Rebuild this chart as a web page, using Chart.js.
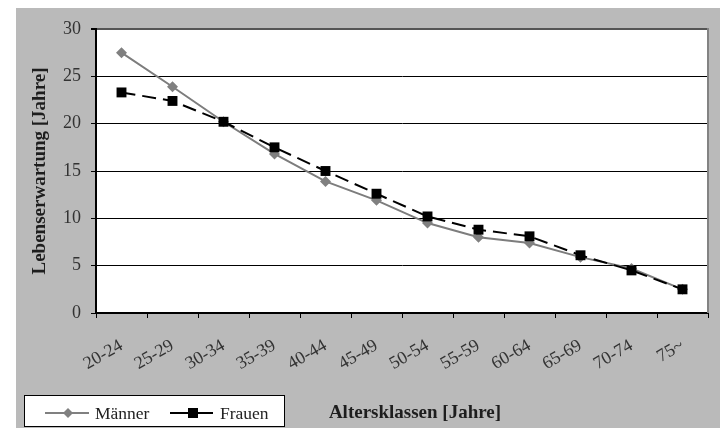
<!DOCTYPE html>
<html>
<head>
<meta charset="utf-8">
<script src="https://cdn.jsdelivr.net/npm/chart.js@4/dist/chart.umd.min.js"></script>
<style>
  html, body { margin: 0; padding: 0; background: #ffffff; }
  canvas { display: block; }
</style>
</head>
<body>
<canvas id="chart" width="722" height="428"></canvas>
<script>
// Age classes (x axis)
const altersklassen = ['20-24', '25-29', '30-34', '35-39', '40-44', '45-49',
                       '50-54', '55-59', '60-64', '65-69', '70-74', '75~'];
// Remaining life expectancy in years
const maenner = [27.5, 23.9, 20.2, 16.8, 13.9, 11.9, 9.5, 8.0, 7.4, 5.9, 4.7, 2.5];
const frauen  = [23.3, 22.4, 20.2, 17.5, 15.0, 12.6, 10.2, 8.8, 8.1, 6.1, 4.5, 2.5];
// Y axis range
const yTicks = { min: 0, max: 30, step: 5 };
// Axis titles
const xTitle = 'Altersklassen [Jahre]';
const yTitle = 'Lebenserwartung [Jahre]';

const serif = '"Liberation Serif", "Times New Roman", serif';
const GRAY_BG = '#bababa';

// Panel background, plot frame, x title and the boxed legend
const frame = {
  id: 'frame',
  beforeDraw(chart) {
    const { ctx, chartArea: a } = chart;
    ctx.save();
    ctx.fillStyle = '#ffffff';
    ctx.fillRect(0, 0, chart.width, chart.height);
    ctx.fillStyle = GRAY_BG;
    ctx.fillRect(16, 8, chart.width - 18, chart.height - 8);
    ctx.fillStyle = '#ffffff';
    ctx.fillRect(a.left, a.top, a.right - a.left, a.bottom - a.top);
    ctx.restore();
  },
  afterDraw(chart) {
    const { ctx, chartArea: a } = chart;
    ctx.save();
    // right frame edge
    ctx.strokeStyle = '#838383';
    ctx.lineWidth = 2;
    ctx.beginPath();
    ctx.moveTo(a.right, a.top - 1);
    ctx.lineTo(a.right, a.bottom);
    ctx.stroke();

    // x axis title, on the legend row
    ctx.fillStyle = '#1e1e1e';
    ctx.font = 'bold 19px ' + serif;
    ctx.textAlign = 'center';
    ctx.textBaseline = 'middle';
    ctx.fillText(xTitle, 415, 413);

    // legend box
    const lx = 24, ly = 395, lw = 260, lh = 31, cy = 413;
    ctx.fillStyle = '#ffffff';
    ctx.fillRect(lx, ly, lw, lh);
    ctx.strokeStyle = '#000000';
    ctx.lineWidth = 1;
    ctx.strokeRect(lx + 0.5, ly + 0.5, lw, lh);

    // Männer sample
    ctx.strokeStyle = '#808080';
    ctx.lineWidth = 2;
    ctx.beginPath();
    ctx.moveTo(45, cy); ctx.lineTo(89, cy);
    ctx.stroke();
    ctx.fillStyle = '#808080';
    ctx.beginPath();
    ctx.moveTo(68, cy - 5); ctx.lineTo(73, cy); ctx.lineTo(68, cy + 5); ctx.lineTo(63, cy);
    ctx.closePath();
    ctx.fill();

    // Frauen sample
    ctx.strokeStyle = '#000000';
    ctx.beginPath();
    ctx.moveTo(170, cy); ctx.lineTo(213, cy);
    ctx.stroke();
    ctx.fillStyle = '#000000';
    ctx.fillRect(188, cy - 5, 10, 10);

    ctx.fillStyle = '#222222';
    ctx.font = '17.5px ' + serif;
    ctx.textBaseline = 'middle';
    ctx.textAlign = 'left';
    ctx.fillText('Männer', 95, cy + 1);
    ctx.fillText('Frauen', 220, cy + 1);
    ctx.restore();
  }
};

new Chart(document.getElementById('chart'), {
  type: 'line',
  data: {
    labels: altersklassen,
    datasets: [
      {
        label: 'Männer',
        data: maenner,
        borderColor: '#7d7d7d',
        backgroundColor: '#808080',
        borderWidth: 2,
        pointStyle: 'rectRot',
        pointRadius: 5.5,
        pointBorderWidth: 0,
        pointBackgroundColor: '#808080',
        tension: 0,
        order: 1
      },
      {
        label: 'Frauen',
        data: frauen,
        borderColor: '#000000',
        backgroundColor: '#000000',
        borderWidth: 2,
        borderDash: [14, 7],
        pointStyle: 'rect',
        pointRadius: 7,
        pointBorderWidth: 0,
        pointBackgroundColor: '#000000',
        tension: 0,
        order: 0
      }
    ]
  },
  options: {
    responsive: false,
    animation: false,
    devicePixelRatio: 1,
    layout: { padding: { left: 16, top: 29, right: 14, bottom: 0 } },
    plugins: {
      legend: { display: false },
      tooltip: { enabled: false }
    },
    scales: {
      x: {
        offset: true,
        afterFit(scale) { scale.height = 115; },
        grid: {
          offset: true,
          drawOnChartArea: false,
          drawTicks: true,
          tickLength: 5,
          tickColor: '#000000',
          color: '#000000'
        },
        border: { display: true, color: '#000000', width: 2 },
        ticks: {
          autoSkip: false,
          minRotation: 30,
          maxRotation: 30,
          padding: 17,
          color: '#333333',
          font: { family: serif, size: 18 }
        },
        title: { display: false }
      },
      y: {
        min: yTicks.min,
        max: yTicks.max,
        afterFit(scale) { scale.width = 80; },
        grid: {
          drawTicks: true,
          tickLength: 5,
          tickColor: '#000000',
          color: (c) => (c.tick && c.tick.value === yTicks.max ? '#555555' : '#000000'),
          lineWidth: (c) => (c.tick && c.tick.value === yTicks.max ? 2 : 1)
        },
        border: { display: true, color: '#000000', width: 2 },
        ticks: {
          stepSize: yTicks.step,
          padding: 10,
          color: '#333333',
          font: { family: serif, size: 18 }
        },
        title: {
          display: true,
          text: yTitle,
          color: '#1e1e1e',
          font: { family: serif, size: 19, weight: 'bold' },
          padding: { top: 13, bottom: 0 }
        }
      }
    }
  },
  plugins: [frame]
});
</script>
</body>
</html>
